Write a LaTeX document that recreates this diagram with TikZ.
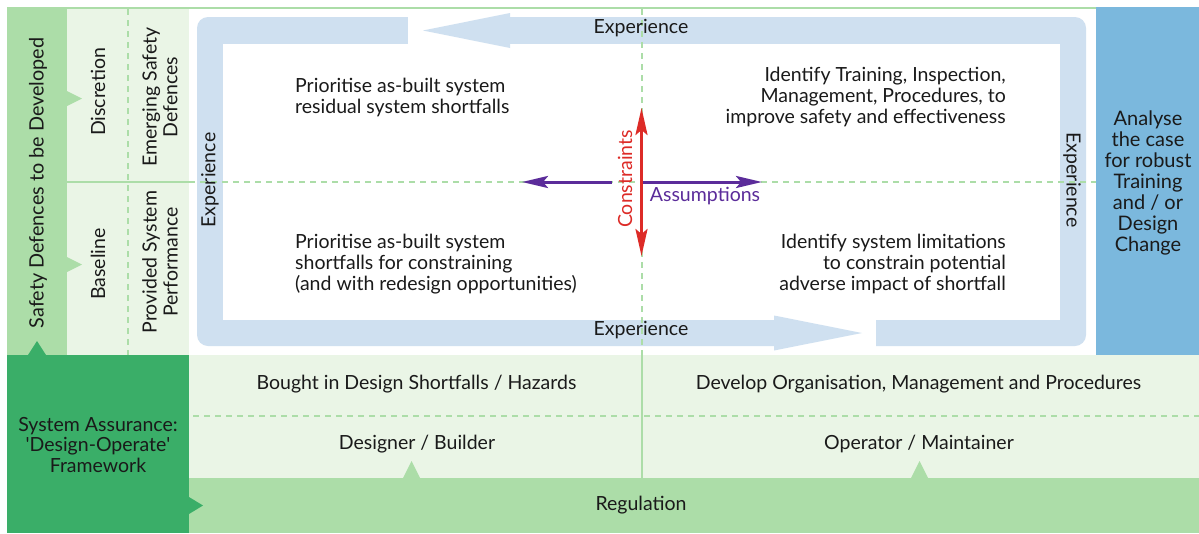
\documentclass[tikz,border=0pt]{standalone}
\usepackage{fontspec}
\setmainfont{Lato}
\usetikzlibrary{arrows.meta}
\definecolor{lgreen}{HTML}{ACDDA8}
\definecolor{pgreen}{HTML}{EAF5E6}
\definecolor{dgreen}{HTML}{3AAE68}
\definecolor{bluebox}{HTML}{7BB8DD}
\definecolor{band}{HTML}{CFE0F0}
\definecolor{purp}{HTML}{5B2C9A}
\definecolor{redc}{HTML}{DD2B27}
\definecolor{ink}{HTML}{1A1A1A}
\begin{document}
\begin{tikzpicture}[x=1pt,y=-1pt,
  txt/.style={text=ink,font=\fontsize{19.5}{20.8}\selectfont,inner sep=0pt},
  bigtxt/.style={text=ink,font=\fontsize{19.8}{21}\selectfont,inner sep=0pt},
  gdash/.style={draw=lgreen,line width=2pt,dash pattern=on 6pt off 5pt},
  gline/.style={draw=lgreen,line width=2pt},
  purparrow/.style={draw=purp,line width=3pt,-{Stealth[length=26pt,width=12pt,inset=5pt]}},
  redarrow/.style={draw=redc,line width=3pt,{Stealth[length=27pt,width=12pt,inset=5pt]}-{Stealth[length=27pt,width=12pt,inset=5pt]}}]
\useasboundingbox (0,0) rectangle (1199,533);
\fill[white] (0,0) rectangle (1199,533);
% left columns
\fill[lgreen] (7,7) rectangle (67,355);
\fill[pgreen] (67,8) rectangle (189,355);
\fill[lgreen] (67,91) -- (82,98.5) -- (67,106) -- cycle;
\fill[lgreen] (67,257) -- (82,264.5) -- (67,272) -- cycle;
\draw[gline] (67,8) -- (1096,8);
\draw[gline] (67,182) -- (189,182);
\draw[gdash] (128,9) -- (128,355);
% blue box
\fill[bluebox] (1096,7) rectangle (1199,355);
% experience band
\fill[band,rounded corners=11pt] (197,17) rectangle (1086,346);
\fill[white] (223,44) rectangle (1060,320);
\fill[white] (408,15) rectangle (510,46);
\fill[band] (510,13) -- (423,30.5) -- (510,48) -- cycle;
\fill[white] (774,318) rectangle (876,348);
\fill[band] (774,315.5) -- (862,333) -- (774,350.5) -- cycle;
% dashed cross
\draw[gdash] (189,182) -- (1096,182);
\draw[gdash] (641.5,9) -- (641.5,355);
% bottom section
\fill[pgreen] (189,355) rectangle (1199,478);
\draw[gdash] (193,416) -- (1199,416);
\draw[gline] (641.5,355) -- (641.5,478);
\fill[lgreen] (189,478) rectangle (1199,533);
\fill[lgreen] (403,478) -- (411.5,461) -- (420,478) -- cycle;
\fill[lgreen] (911,478) -- (919.5,461) -- (928,478) -- cycle;
\fill[dgreen] (7,355) rectangle (189,533);
\fill[dgreen] (189,497) -- (203,505.5) -- (189,514) -- cycle;
\fill[dgreen] (28,355) -- (37,341) -- (46,355) -- cycle;
% texts left
\node[bigtxt,rotate=90] (sdd) at (38,183) {Safety Defences to be Developed};
\node[txt,rotate=90] (disc) at (98,92) {Discretion};
\node[txt,rotate=90] (base) at (98,264) {Baseline};
\node[txt,rotate=90,align=center] (esd) at (160,97) {Emerging Safety\\Defences};
\node[txt,rotate=90,align=center] (psp) at (160,262) {Provided System\\Performance};
% experience labels
\node[txt] (expt) at (641,28) {Experience};
\node[txt] (expb) at (641,330) {Experience};
\node[txt,rotate=90] (expl) at (210,180) {Experience};
\node[txt,rotate=-90] (expr) at (1072,180) {Experience};
% quadrant texts (base = baseline of last line)
\node[txt,align=left,anchor=base west] (tl) at (295,113) {Prioritise as-built system\\residual system shortfalls};
\node[txt,align=right,anchor=base east] (tr) at (1006,123) {Identify Training, Inspection,\\Management, Procedures, to\\improve safety and effectiveness};
\node[txt,align=left,anchor=base west] (bl) at (295,290) {Prioritise as-built system\\shortfalls for constraining\\(and with redesign opportunities)};
\node[txt,align=right,anchor=base east] (br) at (1006,290) {Identify system limitations\\to constrain potential\\adverse impact of shortfall};
% arrows
\coordinate (pl0) at (612,182);
\coordinate (pl1) at (522,182);
\coordinate (pr0) at (643,182);
\coordinate (pr1) at (762,182);
\coordinate (rt) at (641.5,108);
\coordinate (rb) at (641.5,256);
\draw[purparrow] (pl0) -- (pl1);
\draw[purparrow] (pr0) -- (pr1);
\draw[redarrow] (rt) -- (rb);
\node[txt,text=redc,rotate=90] (cons) at (625,179) {Constraints};
\node[txt,text=purp] (assu) at (705,196) {Assumptions};
% blue box text
\node[txt,align=center,font=\fontsize{20}{21}\selectfont] (anal) at (1148,183) {Analyse\\the case\\for robust\\Training\\and / or\\Design\\Change};
% bottom texts
\node[txt,align=center] (sa) at (98,445) {System Assurance:\\\textquotesingle Design-Operate\textquotesingle\\Framework};
\node[txt] (bought) at (416.5,384) {Bought in Design Shortfalls / Hazards};
\node[txt] (devel) at (918.5,384) {Develop Organisation, Management and Procedures};
\node[txt] (desig) at (417,444) {Designer / Builder};
\node[txt] (oper) at (919,444) {Operator / Maintainer};
\node[txt] (reg) at (641,505) {Regulation};
\end{tikzpicture}
\end{document}
